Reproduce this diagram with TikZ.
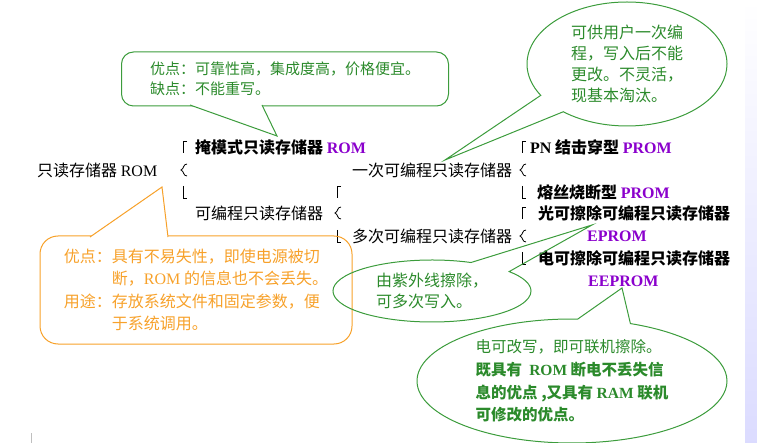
\documentclass[tikz,border=0pt]{standalone}
\usepackage{fontspec}
\setmainfont{Liberation Serif}
\newfontfamily\cjk{Noto Sans CJK SC}
\usetikzlibrary{shapes.callouts}
\definecolor{notegreen}{HTML}{2B8A2B}
\definecolor{noteline}{HTML}{3C9C3C}
\definecolor{noteorange}{HTML}{F7A12A}
\definecolor{rompurple}{HTML}{8A00CC}
\newcommand{\lat}[1]{{\rmfamily #1}}
\newcommand{\romtag}[1]{{\rmfamily\bfseries\color{rompurple}#1}}

\begin{document}
\begin{tikzpicture}[x=1pt, y=-1pt,
  tree/.style={anchor=west, inner sep=0pt, font=\cjk\fontsize{16}{18}\selectfont},
  treeb/.style={anchor=west, inner sep=0pt, font=\cjk\bfseries\fontsize{16}{18}\selectfont},
  brk/.style={line width=0.8pt},
  gnote/.style={ellipse callout, draw=noteline, line width=1pt, text=notegreen,
                align=left, inner sep=0pt, callout pointer arc=20},
  boxnote/.style={draw=#1, line width=1pt, text=#1, align=left, inner sep=0pt}
]
  \useasboundingbox (0,0) rectangle (757,443);

  % tree of ROM kinds
  \node[tree]  (rom)    at (37,170)  {只读存储器 \lat{ROM}};
  \node[treeb] (mask)   at (195,147) {掩模式只读存储器 \romtag{ROM}};
  \node[tree]  (prog)   at (195,213) {可编程只读存储器};
  \node[tree]  (otp)    at (352,170) {一次可编程只读存储器};
  \node[tree]  (mtp)    at (352,236) {多次可编程只读存储器};
  \node[treeb] (pn)     at (530,147) {\lat{PN} 结击穿型 \romtag{PROM}};
  \node[treeb] (fuse)   at (537,192) {熔丝烧断型 \romtag{PROM}};
  \node[treeb] (uv)     at (538,213) {光可擦除可编程只读存储器};
  \node[treeb] (eprom)  at (587,236) {\romtag{EPROM}};
  \node[treeb] (ee)     at (538,258) {电可擦除可编程只读存储器};
  \node[treeb] (eeprom) at (588,281) {\romtag{EEPROM}};

  % brace pieces
  \foreach \x/\y in {183/147, 337/192, 522/147, 522/213}
    \draw[brk] (\x+4,\y-6) -- (\x,\y-6) -- (\x,\y+6);
  \foreach \x/\y in {183/170, 337/213, 522/170, 522/236}
    \draw[brk] (\x+4,\y-6) .. controls (\x,\y-6) and (\x+1,\y-1) .. (\x-2,\y)
               .. controls (\x+1,\y+1) and (\x,\y+6) .. (\x+4,\y+6);
  \foreach \x/\y in {183/192, 337/236, 522/192, 522/258}
    \draw[brk] (\x,\y-6) -- (\x,\y+6) -- (\x+4,\y+6);

  % callout tips
  \coordinate (romtip) at (277,136);
  \coordinate (usetip) at (162,187);
  \coordinate (otptip) at (445,160);
  \coordinate (uvtip)  at (592,225);
  \coordinate (eetip)  at (622,288);

  \node[boxnote=notegreen, draw=noteline, rounded corners=12pt,
        minimum width=327, minimum height=54,
        font=\cjk\fontsize{15}{20}\selectfont] (romnote) at (285,79)
    {优点：可靠性高，集成度高，价格便宜。\\缺点：不能重写。};
  \filldraw[draw=noteline, fill=white, line width=1pt]
    ([xshift=-95,yshift=1.5]romnote.south) -- (romtip) -- ([xshift=-23,yshift=1.5]romnote.south);

  \node[boxnote=noteorange, rounded corners=18pt,
        minimum width=312, minimum height=108,
        font=\cjk\fontsize{16}{22.3}\selectfont] (usenote) at (196,290)
    {优点：具有不易失性，即使电源被切\\
     \hspace*{3em}断，\lat{ROM} 的信息也不会丢失。\\
     用途：存放系统文件和固定参数，便\\
     \hspace*{3em}于系统调用。};
  \filldraw[draw=noteorange, fill=white, line width=1pt]
    ([xshift=-106,yshift=-1.5]usenote.north) -- (usetip) -- ([xshift=-28,yshift=-1.5]usenote.north);

  \node[gnote, minimum width=200, minimum height=124, callout absolute pointer=(otptip),
        font=\cjk\fontsize{16}{21}\selectfont] (otpnote) at (627,64)
    {可供用户一次编\\程，写入后不能\\更改。不灵活，\\现基本淘汰。};

  \node[gnote, minimum width=198, minimum height=62, callout absolute pointer=(uvtip),
        callout pointer arc=28, font=\cjk\fontsize{16}{21}\selectfont] (uvnote) at (432,291)
    {由紫外线擦除，\\可多次写入。};

  \node[gnote, minimum width=310, minimum height=124, callout absolute pointer=(eetip),
        font=\cjk\fontsize{15.5}{22.7}\selectfont] (eenote) at (572,381)
    {电可改写，即可联机擦除。\\
     {\bfseries 既具有~~\lat{ROM} 断电不丢失信}\\
     {\bfseries 息的优点 ,又具有 \lat{RAM} 联机}\\
     {\bfseries 可修改的优点。}};

  % page edge
  \shade[top color=white, bottom color=blue!14] (745,0) rectangle (757,443);
  \draw[gray!50, line width=1pt] (31,433) -- (31,443);
\end{tikzpicture}
\end{document}
